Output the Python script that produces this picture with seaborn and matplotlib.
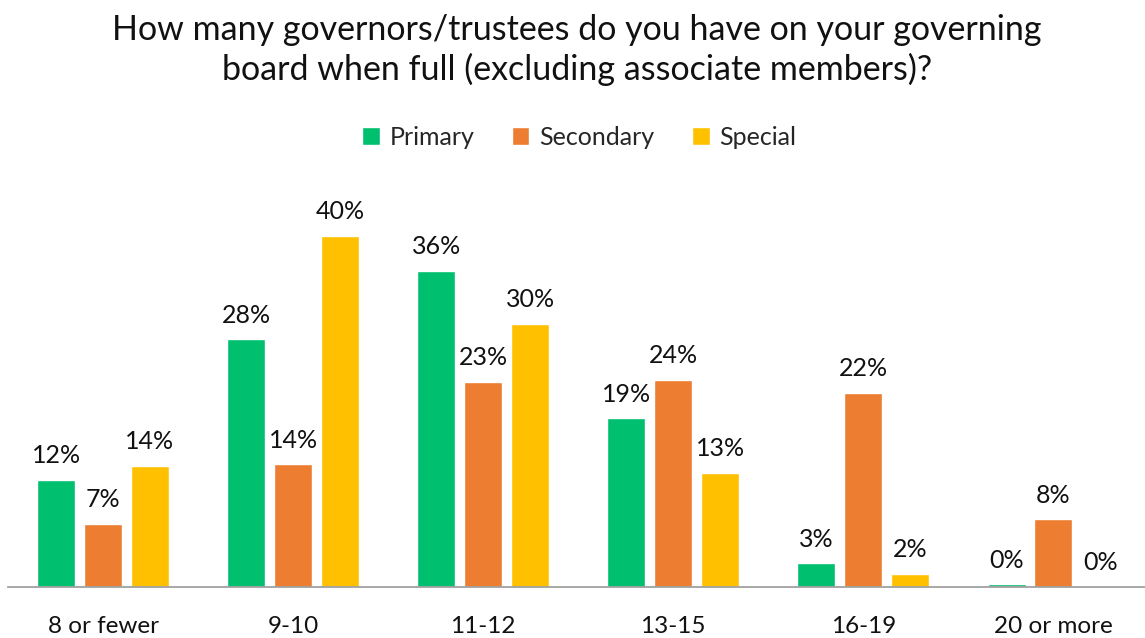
import matplotlib
matplotlib.use("Agg")
import matplotlib.pyplot as plt
import seaborn as sns
import pandas as pd

# Board size bands and share of schools in each band (%)
categories = ["8 or fewer", "9-10", "11-12", "13-15", "16-19", "20 or more"]
primary = [12.2, 28.2, 36.0, 19.2, 2.7, 0.3]
secondary = [7.2, 14.0, 23.4, 23.6, 22.1, 7.7]
special = [13.8, 40.0, 30.0, 13.0, 1.5, 0.0]

phases = ["Primary", "Secondary", "Special"]
colors = ["#00BF6F", "#ED7D31", "#FFC000"]

df = pd.DataFrame({
    "band": categories * 3,
    "phase": [p for p in phases for _ in categories],
    "share": primary + secondary + special,
})

sns.set_theme(style="white")
plt.rcParams["font.family"] = ["Lato", "DejaVu Sans"]

fig = plt.figure(figsize=(11.45, 6.38), dpi=100)
ax = fig.add_axes([0.007, 0.08, 0.996, 0.6536])

sns.barplot(data=df, x="band", y="share", hue="phase", order=categories,
            hue_order=phases, palette=colors, width=0.74, gap=0.19,
            saturation=1, ax=ax, legend=True)

for cont in ax.containers:
    ax.bar_label(cont, fmt="{:.0f}%", padding=9, fontsize=18, color="#111111")

ax.set_xlim(-0.5, 5.5)
ax.set_ylim(0, 47.5)
ax.set_xlabel("")
ax.set_ylabel("")
ax.set_yticks([])
ax.tick_params(axis="x", length=0, pad=21, labelsize=17.5, labelcolor="#111111")
for side in ["top", "right", "left"]:
    ax.spines[side].set_visible(False)
ax.spines["bottom"].set_color("#A0A0A0")
ax.spines["bottom"].set_linewidth(1.3)

handles, labels = ax.get_legend_handles_labels()
ax.get_legend().remove()
fig.legend(handles, labels, loc="center", bbox_to_anchor=(0.506, 0.785), ncol=3,
           frameon=False, fontsize=18, handlelength=0.7, handleheight=0.7,
           handletextpad=0.4, columnspacing=1.5)

fig.text(0.504, 0.922,
         "How many governors/trustees do you have on your governing\n"
         "board when full (excluding associate members)?",
         ha="center", va="center", fontsize=24.5, color="#111111", linespacing=1.25)

fig.savefig("out.png", dpi=100)
